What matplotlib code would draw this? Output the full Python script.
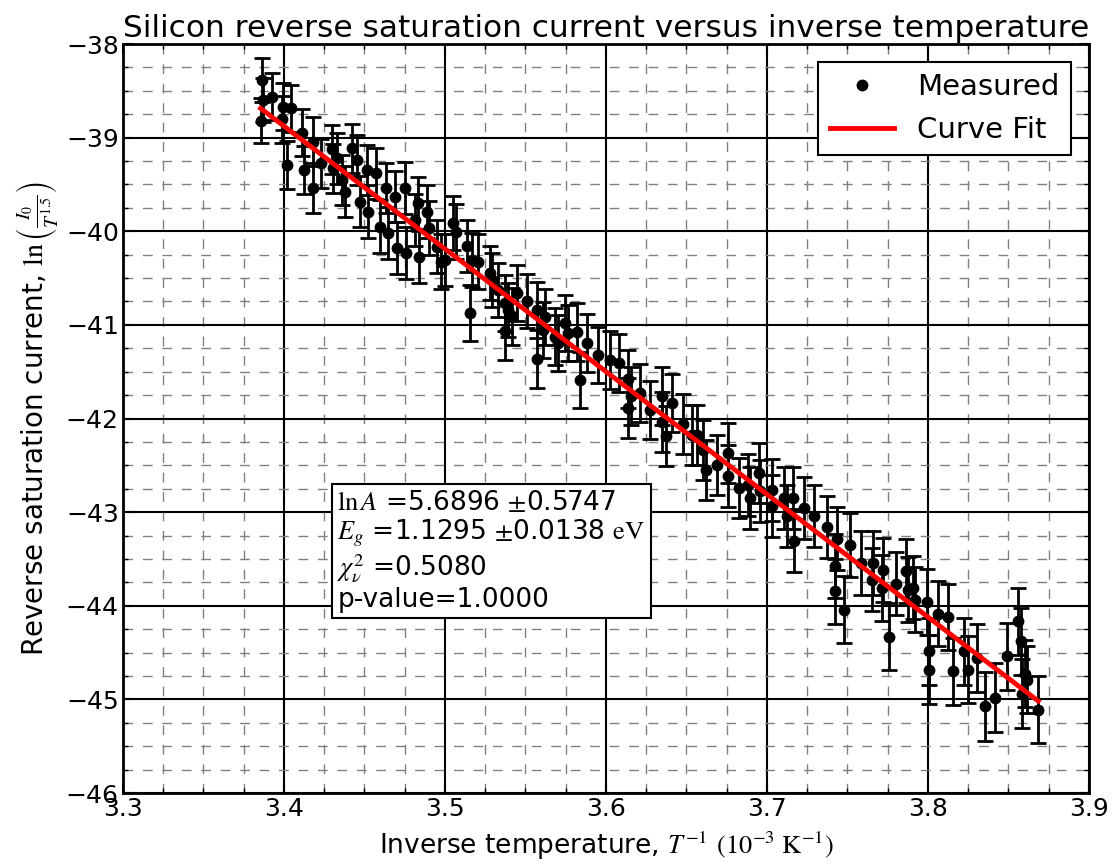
import matplotlib.pyplot as plt
import numpy as np
from matplotlib.ticker import MultipleLocator

plt.rcParams['mathtext.fontset'] = 'stix'

# inverse temperature (1e-3 / K) and ln(I0 / T^1.5)
x_inv = [3.3861, 3.3868, 3.3855, 3.3927, 3.3986, 3.3996, 3.4020, 3.4043, 3.4114, 3.4124,
         3.4182, 3.4182, 3.4228, 3.4300, 3.4327, 3.4302, 3.4358, 3.4379, 3.4420, 3.4455,
         3.4472, 3.4514, 3.4524, 3.4571, 3.4596, 3.4632, 3.4648, 3.4689, 3.4700, 3.4752,
         3.4756, 3.4814, 3.4834, 3.4839, 3.4886, 3.4901, 3.4948, 3.4975, 3.5000, 3.5052,
         3.5068, 3.5135, 3.5155, 3.5166, 3.5207, 3.5280, 3.5290, 3.5331, 3.5373, 3.5373,
         3.5393, 3.5414, 3.5445, 3.5507, 3.5570, 3.5570, 3.5611, 3.5621, 3.5683, 3.5700,
         3.5745, 3.5762, 3.5820, 3.5839, 3.5882, 3.5950, 3.6022, 3.6084, 3.6139, 3.6139,
         3.6155, 3.6214, 3.6273, 3.6346, 3.6351, 3.6373, 3.6408, 3.6480, 3.6532, 3.6563,
         3.6604, 3.6621, 3.6688, 3.6758, 3.6758, 3.6824, 3.6883, 3.6894, 3.6953, 3.6957,
         3.7029, 3.7029, 3.7106, 3.7122, 3.7163, 3.7168, 3.7233, 3.7292, 3.7371, 3.7422,
         3.7422, 3.7433, 3.7478, 3.7516, 3.7581, 3.7650, 3.7661, 3.7720, 3.7717, 3.7761,
         3.7804, 3.7865, 3.7873, 3.7909, 3.7919, 3.7992, 3.8006, 3.8006, 3.8064, 3.8126,
         3.8153, 3.8224, 3.8250, 3.8302, 3.8357, 3.8416, 3.8489, 3.8561, 3.8578, 3.8602,
         3.8613, 3.8582, 3.8685]

ln_i = [-38.384, -38.598, -38.819, -38.562, -38.804, -38.669, -39.291, -38.686, -38.947, -39.345,
        -39.043, -39.540, -39.273, -39.124, -39.220, -39.327, -39.451, -39.576, -39.113, -39.238,
        -39.683, -39.345, -39.790, -39.380, -39.950, -39.540, -40.020, -39.630, -40.180, -39.540,
        -40.234, -39.878, -39.700, -40.276, -39.790, -39.967, -40.163, -40.323, -40.305, -39.914,
        -40.003, -40.159, -40.874, -40.305, -40.323, -40.447, -40.519, -40.625, -40.767, -41.070,
        -40.839, -40.910, -40.661, -40.743, -40.839, -41.367, -41.052, -40.919, -41.124, -41.194,
        -40.981, -41.088, -41.079, -41.586, -41.194, -41.319, -41.378, -41.408, -41.575, -41.888,
        -41.764, -41.728, -41.911, -41.757, -42.039, -42.191, -41.834, -42.056, -42.173, -42.173,
        -42.333, -42.546, -42.493, -42.368, -42.618, -42.742, -42.707, -42.849, -42.582, -42.778,
        -42.760, -42.938, -42.849, -43.045, -42.849, -43.304, -42.957, -43.045, -43.155, -43.578,
        -43.845, -43.283, -44.041, -43.352, -43.542, -43.720, -43.542, -43.619, -43.809, -44.329,
        -43.763, -43.630, -43.827, -43.806, -43.934, -43.961, -44.486, -44.681, -44.083, -44.121,
        -44.699, -44.486, -44.681, -44.556, -45.073, -44.983, -44.539, -44.165, -44.379, -44.724,
        -44.788, -44.937, -45.108]

ln_i_err = [0.24, 0.24, 0.24, 0.25, 0.25, 0.25, 0.26, 0.25, 0.25, 0.26,
            0.26, 0.27, 0.26, 0.26, 0.27, 0.26, 0.27, 0.27, 0.26, 0.27,
            0.27, 0.27, 0.28, 0.27, 0.28, 0.27, 0.28, 0.27, 0.28, 0.28,
            0.28, 0.28, 0.28, 0.28, 0.28, 0.29, 0.28, 0.29, 0.28, 0.29,
            0.29, 0.28, 0.30, 0.29, 0.29, 0.29, 0.29, 0.29, 0.30, 0.30,
            0.29, 0.30, 0.30, 0.29, 0.30, 0.31, 0.30, 0.30, 0.30, 0.30,
            0.30, 0.30, 0.31, 0.30, 0.31, 0.30, 0.31, 0.31, 0.31, 0.32,
            0.31, 0.31, 0.31, 0.31, 0.32, 0.32, 0.31, 0.32, 0.32, 0.32,
            0.32, 0.32, 0.32, 0.32, 0.33, 0.32, 0.33, 0.33, 0.32, 0.33,
            0.33, 0.33, 0.33, 0.33, 0.33, 0.34, 0.33, 0.33, 0.33, 0.34,
            0.35, 0.34, 0.36, 0.34, 0.34, 0.34, 0.34, 0.34, 0.35, 0.36,
            0.34, 0.34, 0.35, 0.34, 0.35, 0.35, 0.36, 0.37, 0.35, 0.35,
            0.36, 0.36, 0.36, 0.36, 0.37, 0.37, 0.36, 0.36, 0.36, 0.36,
            0.36, 0.37, 0.36]

# fit results shown in the box
lnA = 5.6896
lnA_err = 0.5747
Eg = 1.1295
Eg_err = 0.0138
chi2_red = 0.5080
p_value = 1.0000
k_B = 8.617e-5  # eV/K

fig = plt.figure(figsize=(11.13, 8.65), dpi=100)
ax = fig.add_axes([0.1105, 0.0832, 0.8679, 0.8659])

ax.errorbar(x_inv, ln_i, yerr=ln_i_err, fmt='none', ecolor='k',
            elinewidth=2, capsize=6, capthick=2, zorder=3)
ax.plot(x_inv, ln_i, 'o', color='k', ms=7.5, label='Measured', zorder=4)

x_fit = np.array([min(x_inv), max(x_inv)])
y_fit = lnA - Eg / (k_B * 1e3) * x_fit
ax.plot(x_fit, y_fit, color='r', lw=3.5, label='Curve Fit', zorder=5)

ax.set_xlim(3.3, 3.9)
ax.set_ylim(-46, -38)
ax.xaxis.set_major_locator(MultipleLocator(0.1))
ax.xaxis.set_minor_locator(MultipleLocator(0.025))
ax.yaxis.set_major_locator(MultipleLocator(1))
ax.yaxis.set_minor_locator(MultipleLocator(0.25))

ax.grid(which='major', color='k', ls='-', lw=1.5, zorder=1)
ax.grid(which='minor', color='0.5', ls=(0, (7, 7)), lw=1, zorder=1)
ax.set_axisbelow(True)

ax.tick_params(which='both', direction='in', top=True, right=True, labelsize=18)
ax.tick_params(which='major', length=7, width=1.5, pad=3)
ax.tick_params(which='minor', length=3.5, width=1)
for s in ax.spines.values():
    s.set_linewidth(2)

ax.set_title('Silicon reverse saturation current versus inverse temperature',
             fontsize=22.5, pad=5)
ax.set_xlabel(r'Inverse temperature, $T^{-1}$ $(10^{-3}\ \mathrm{K}^{-1})$',
              fontsize=19, labelpad=6)
ax.set_ylabel(r'Reverse saturation current, $\ln\left(\frac{I_0}{T^{1.5}}\right)$',
              fontsize=20, labelpad=4)

leg = ax.legend(loc='upper right', numpoints=1, fontsize=21, fancybox=False,
                framealpha=1, edgecolor='k', borderaxespad=0.6, handlelength=2.2)
leg.get_frame().set_linewidth(1.5)

info = '\n'.join([
    r'$\ln A$ =%.4f $\pm$%.4f' % (lnA, lnA_err),
    r'$E_g$ =%.4f $\pm$%.4f $\mathrm{eV}$' % (Eg, Eg_err),
    r'$\chi^2_\nu$ =%.4f' % chi2_red,
    'p-value=%.4f' % p_value,
])
ax.text(0.222, 0.405, info, transform=ax.transAxes, fontsize=19, va='top',
        ha='left', zorder=6, linespacing=1.1,
        bbox=dict(boxstyle='square,pad=0.2', fc='white', ec='k', lw=1.5))

fig.savefig('out.png', dpi=100)
